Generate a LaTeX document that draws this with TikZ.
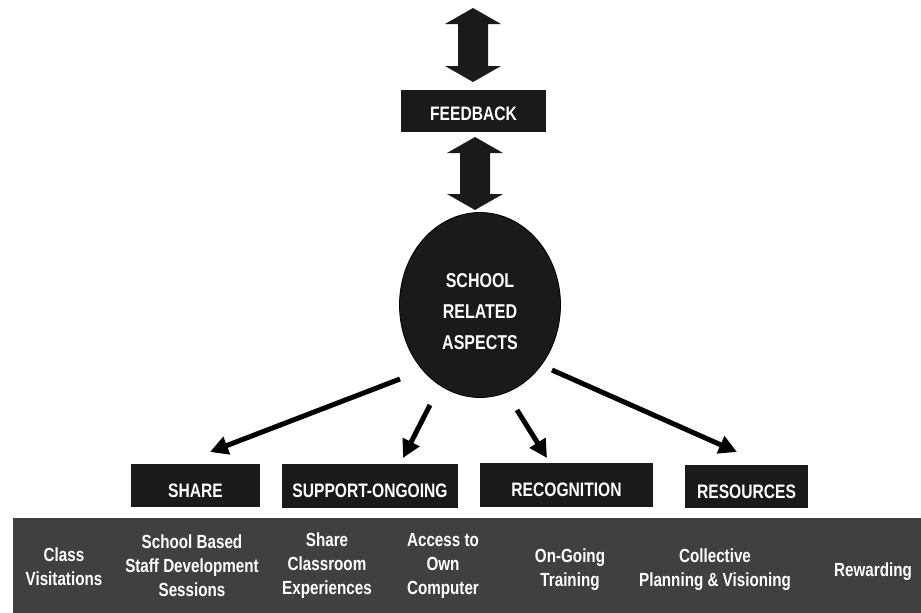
\documentclass[tikz,border=0pt]{standalone}
\usepackage{fontspec}
\newfontfamily\narrowfont{Liberation Sans}[FakeStretch=0.8]
\usetikzlibrary{arrows.meta,calc,shapes.geometric}
\definecolor{boxblack}{HTML}{1A1A1A}
\definecolor{bargray}{HTML}{404040}
\newcommand\dblarrow[3]{\fill[boxblack] (#1,#2) -- (#1+28,#2+16) -- (#1+15,#2+16) -- (#1+15,#3-16) -- (#1+28,#3-16) -- (#1,#3) -- (#1-28,#3-16) -- (#1-15,#3-16) -- (#1-15,#2+16) -- (#1-28,#2+16) -- cycle;}
\begin{document}
\begin{tikzpicture}[x=1pt,y=-1pt,
  hbox/.style={fill=boxblack, draw=none, inner sep=0pt},
  htext/.style={text=white, inner sep=0pt, font=\narrowfont\bfseries\fontsize{19.5}{20}\selectfont},
  btext/.style={text=white, inner sep=0pt, align=center, font=\narrowfont\bfseries\fontsize{19}{24}\selectfont},
  link/.style={line width=5pt, draw=black, -{Triangle[length=18pt,width=18pt]}}]
\useasboundingbox (0,0) rectangle (921,613);
% feedback
\node[hbox, minimum width=145pt, minimum height=42pt] (fb) at (473.5,111) {};
\node[htext] (fbt) at ([yshift=-3pt]fb.center) {FEEDBACK};
\dblarrow{473}{8}{82}
\dblarrow{475}{137}{210}
% centre
\node[ellipse, draw=black, line width=0.8pt, fill=boxblack, minimum width=161pt, minimum height=185pt, inner sep=0pt] (sra) at (480,305) {};
\node[htext, align=center, font=\narrowfont\bfseries\fontsize{20}{31}\selectfont] (srat) at ([yshift=-7pt]sra.center) {SCHOOL\\RELATED\\ASPECTS};
% boxes
\node[hbox, minimum width=129pt, minimum height=43pt] (share) at (195.5,485.5) {};
\node[htext] at ([yshift=-5pt]share.center) {SHARE};
\node[hbox, minimum width=176pt, minimum height=44pt] (supp) at (370,486) {};
\node[htext] at ([yshift=-5pt]supp.center) {SUPPORT-ONGOING};
\node[hbox, minimum width=173pt, minimum height=44pt] (recog) at (566.5,485) {};
\node[htext] at ([yshift=-5pt]recog.center) {RECOGNITION};
\node[hbox, minimum width=123pt, minimum height=43pt] (res) at (746.5,486.5) {};
\node[htext] at ([yshift=-5pt]res.center) {RESOURCES};
% arrows
\coordinate (a1s) at (400,379); \coordinate (a1e) at (210,452);
\coordinate (a2s) at (430,405); \coordinate (a2e) at (403,458);
\coordinate (a3s) at (517,410); \coordinate (a3e) at (547,458);
\coordinate (a4s) at (552,370); \coordinate (a4e) at (737,452);
\draw[link] (a1s) -- (a1e);
\draw[link] (a2s) -- (a2e);
\draw[link] (a3s) -- (a3e);
\draw[link] (a4s) -- (a4e);
% bottom bar
\node[fill=bargray, draw=none, inner sep=0pt, minimum width=908pt, minimum height=95pt, anchor=north west] (bar) at (13,518) {};
\node[btext] (t1) at (64,567) {Class\\Visitations};
\node[btext] (t2) at (192,566) {School Based\\Staff Development\\Sessions};
\node[btext] (t3) at (327,566) {Share\\Classroom\\Experiences};
\node[btext] (t4) at (443,566) {Access to\\Own\\Computer};
\node[btext] (t5) at (570,570) {On-Going\\Training};
\node[btext] (t6) at (715,570) {Collective\\Planning \& Visioning};
\node[btext] (t7) at (873,572) {Rewarding};
\end{tikzpicture}
\end{document}
